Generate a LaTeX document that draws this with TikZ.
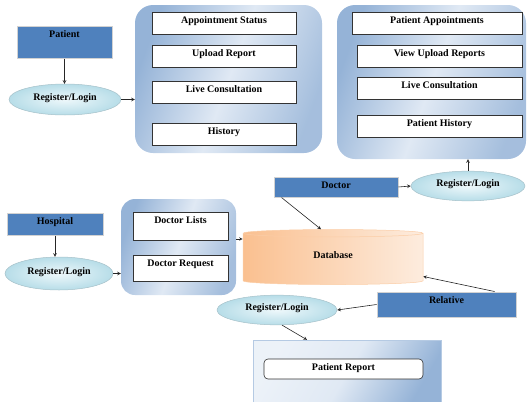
\documentclass[tikz,border=0pt]{standalone}
\usepackage{fontspec}
\setmainfont{Liberation Serif}
\usepackage{tikz}
\usetikzlibrary{shapes.geometric}
\usetikzlibrary{calc}
\definecolor{boxblue}{RGB}{79,129,189}
\definecolor{pnldark}{RGB}{149,179,215}
\definecolor{pnllight}{RGB}{224,233,244}
\definecolor{ellcyan}{RGB}{183,221,232}
\definecolor{ellpale}{RGB}{238,248,251}
\definecolor{dbdark}{RGB}{250,192,144}
\definecolor{dblight}{RGB}{253,236,222}
\tikzstyle{lbl}=[font=\fontsize{10}{12}\selectfont\bfseries, text height=7pt, inner ysep=4pt]
\tikzstyle{actor}=[lbl, rectangle, fill=boxblue, draw=gray!35, line width=1pt]
\tikzstyle{item}=[lbl, rectangle, fill=white, draw=black!80, line width=0.6pt]
\tikzstyle{login}=[lbl, ellipse, draw=ellcyan!70!gray, line width=0.5pt, inner color=ellpale, outer color=ellcyan, text depth=6pt]
\tikzstyle{panel}=[rectangle, rounded corners=18pt, left color=pnldark, right color=pnldark!85!white, middle color=pnllight, shading angle=70]
\tikzstyle{link}=[->, >=stealth, line width=0.6pt, black!85]

\begin{document}
\begin{tikzpicture}[x=1pt,y=-1pt]
\useasboundingbox (0,0) rectangle (528,402);

\node[panel, minimum width=187pt, minimum height=148pt] (pan1) at (228.5,79) {};
\node[panel, minimum width=189pt, minimum height=154pt] (pan2) at (431.5,82) {};
\node[panel, rounded corners=14pt, minimum width=115pt, minimum height=96pt] (pan3) at (178.5,247) {};
\node[rectangle, draw=pnldark!70!white, line width=0.4pt, left color=pnllight!60!white, right color=pnldark, middle color=pnllight, shading angle=60, minimum width=188pt, minimum height=64pt] (rep) at (347,372) {};

\node[item, minimum width=144pt, text depth=7pt] (apst) at (224,23) {Appointment Status};
\node[item, minimum width=144pt, text depth=7pt] (uprep) at (224,56) {Upload Report};
\node[item, minimum width=144pt, text depth=7pt] (live1) at (224,92) {Live Consultation};
\node[item, minimum width=144pt, text depth=7pt] (hist) at (224,134) {History};

\node[item, minimum width=170pt, text depth=7pt] (papp) at (437,23) {Patient Appointments};
\node[item, minimum width=165pt, text depth=7pt] (vrep) at (439.5,56) {View Upload Reports};
\node[item, minimum width=165pt, text depth=7pt] (live2) at (439.5,88) {Live Consultation};
\node[item, minimum width=165pt, text depth=7pt] (phist) at (439.5,126) {Patient History};

\node[item, minimum width=95pt, text depth=13pt] (dlist) at (180.5,226) {Doctor Lists};
\node[item, minimum width=95pt, text depth=11pt] (dreq) at (180.5,268) {Doctor Request};
\node[item, rounded corners=4pt, minimum width=159pt, text depth=5pt] (prep) at (343.5,369) {Patient Report};

\node[actor, minimum width=95pt, text depth=17pt] (pat) at (64.5,42) {Patient};
\node[actor, minimum width=96pt, text depth=7pt] (hos) at (55,224) {Hospital};
\node[actor, minimum width=124pt, text depth=5pt] (doc) at (336,187) {Doctor};
\node[actor, minimum width=139pt, text depth=10pt] (rel) at (446.5,304.5) {Relative};

\node[login, minimum width=112pt, minimum height=31pt] (rl1) at (65,99.5) {Register/Login};
\node[login, minimum width=114pt, minimum height=28pt] (rl2) at (468,186) {Register/Login};
\node[login, minimum width=108pt, minimum height=33pt] (rl3) at (59,273.5) {Register/Login};
\node[login, minimum width=120pt, minimum height=24pt] (rl4) at (277,310) {Register/Login};

\node[lbl, cylinder, shape border rotate=90, aspect=0.16, draw=dbdark!80!white, line width=0.5pt, left color=dbdark, right color=dblight, minimum width=180pt, minimum height=55pt, text depth=10pt] (db) at (333,259.5) {Database};

\draw[link] (pat.south) -- (pat.south |- rl1.north);
\draw[link] (rl1.east) -- (pan1.west |- rl1.east);
\draw[link] (doc.east) -- (rl2.west);
\draw[link] (rl2.north) -- (rl2.north |- pan2.south);
\draw[link] ([xshift=8pt]doc.south west) -- ([xshift=-12pt]db.north);
\draw[link] (hos.south) -- (hos.south |- rl3.north);
\draw[link] (rl3.east) -- (pan3.west |- rl3.east);
\draw[link] ([yshift=8pt]pan3.east) -- ([yshift=8pt]pan3.east -| db.west);
\draw[link] ([xshift=48pt]rel.north) -- ([yshift=-17pt]db.east);
\draw[link] (rel.west) -- (rl4.east);
\draw[link] ([xshift=5pt]rl4.south) -- ([xshift=-40pt]rep.north);
\end{tikzpicture}
\end{document}
